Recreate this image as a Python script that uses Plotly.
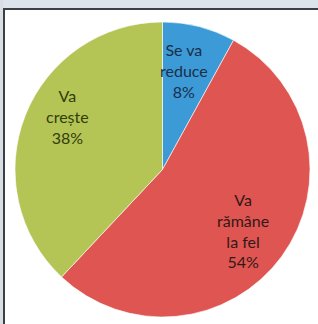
import plotly.graph_objects as go

categories = ["Se va reduce", "Va rămâne la fel", "Va crește"]
values = [8, 54, 38]
label_lines = ["Se va<br>reduce", "Va<br>rămâne<br>la fel", "Va<br>crește"]
colors = ["#3c9ad6", "#de5551", "#b4c455"]
text_colors = ["#1a2f4a", "#341818", "#313d0c"]

W, H = 318, 324

fig = go.Figure(go.Pie(
    labels=categories,
    values=values,
    sort=False,
    direction="clockwise",
    rotation=0,
    marker=dict(colors=colors, line=dict(color="rgba(255,255,255,0.6)", width=1)),
    textinfo="none",
    hoverinfo="label+percent",
    showlegend=False,
    domain=dict(x=[15 / W, 310 / W], y=[1 - 317 / H, 1 - 22 / H]),
))

# label anchor pixel positions (centre of text block)
label_pos = [(184, 71), (243, 231), (67, 116)]
total = sum(values)
for i, (cat, v) in enumerate(zip(categories, values)):
    px, py = label_pos[i]
    pct = round(100 * v / total)
    fig.add_annotation(
        x=px / W, y=1 - py / H, xref="paper", yref="paper",
        text=f"{label_lines[i]}<br>{pct}%", showarrow=False,
        align="center", xanchor="center", yanchor="middle",
        font=dict(family="Lato, Open Sans, sans-serif", size=16, color=text_colors[i]),
    )

shapes = [
    dict(type="rect", xref="paper", yref="paper", x0=0, x1=1, y0=1 - 8 / H, y1=1,
         fillcolor="#dde3ea", line=dict(width=0), layer="above"),
    dict(type="rect", xref="paper", yref="paper", x0=0, x1=3 / W, y0=0, y1=1,
         fillcolor="#d9dee4", line=dict(width=0), layer="above"),
    dict(type="rect", xref="paper", yref="paper", x0=3 / W, x1=1, y0=1 - 10 / H, y1=1 - 8 / H,
         fillcolor="#3c3f44", line=dict(width=0), layer="above"),
    dict(type="rect", xref="paper", yref="paper", x0=3 / W, x1=5 / W, y0=0, y1=1 - 8 / H,
         fillcolor="#3c3f44", line=dict(width=0), layer="above"),
]

fig.update_layout(
    width=W, height=H,
    margin=dict(l=0, r=0, t=0, b=0),
    paper_bgcolor="white",
    plot_bgcolor="white",
    shapes=shapes,
)

fig.write_html(
    "out.html",
    config={"displayModeBar": False},
    post_script="document.body.style.margin='0';document.body.style.overflow='hidden';",
)
